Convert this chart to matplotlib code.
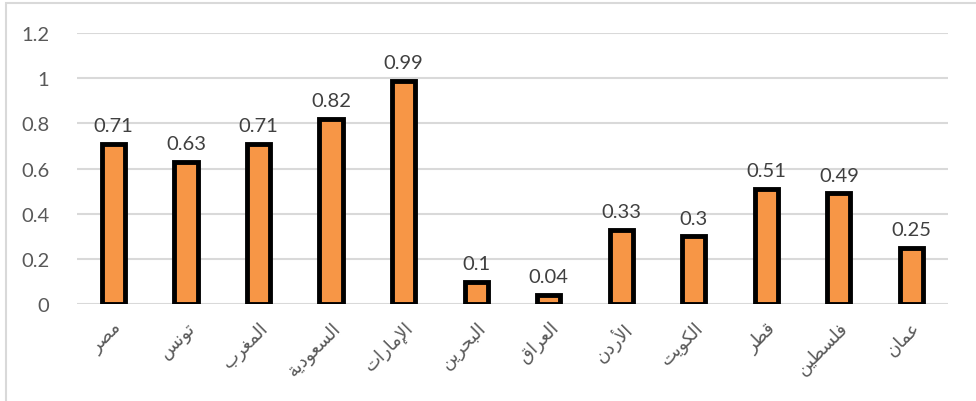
import matplotlib
matplotlib.use("Agg")
import matplotlib.pyplot as plt
from matplotlib.patches import Rectangle

countries = ["مصر", "تونس", "المغرب", "السعودية", "الإمارات", "البحرين",
             "العراق", "الأردن", "الكويت", "قطر", "فلسطين", "عمان"]
values = [0.71, 0.63, 0.71, 0.82, 0.99, 0.1, 0.04, 0.33, 0.3, 0.51, 0.49, 0.25]
yticks = [0, 0.2, 0.4, 0.6, 0.8, 1, 1.2]
ytick_labels = ["0", "0.2", "0.4", "0.6", "0.8", "1", "1.2"]

# presentation forms: isolated, final, initial, medial
FORMS = {
    "ا": (0xFE8D, 0xFE8E), "أ": (0xFE83, 0xFE84), "إ": (0xFE87, 0xFE88),
    "آ": (0xFE81, 0xFE82), "ة": (0xFE93, 0xFE94), "د": (0xFEA9, 0xFEAA),
    "ذ": (0xFEAB, 0xFEAC), "ر": (0xFEAD, 0xFEAE), "ز": (0xFEAF, 0xFEB0),
    "و": (0xFEED, 0xFEEE), "ؤ": (0xFE85, 0xFE86), "ى": (0xFEEF, 0xFEF0),
}
for ch, base in [("ب", 0xFE8F), ("ت", 0xFE95), ("ث", 0xFE99), ("ج", 0xFE9D),
                 ("ح", 0xFEA1), ("خ", 0xFEA5), ("س", 0xFEB1), ("ش", 0xFEB5),
                 ("ص", 0xFEB9), ("ض", 0xFEBD), ("ط", 0xFEC1), ("ظ", 0xFEC5),
                 ("ع", 0xFEC9), ("غ", 0xFECD), ("ف", 0xFED1), ("ق", 0xFED5),
                 ("ك", 0xFED9), ("ل", 0xFEDD), ("م", 0xFEE1), ("ن", 0xFEE5),
                 ("ه", 0xFEE9), ("ي", 0xFEF1), ("ئ", 0xFE89)]:
    FORMS[ch] = (base, base + 1, base + 2, base + 3)
LAM_ALEF = {"آ": (0xFEF5, 0xFEF6), "أ": (0xFEF7, 0xFEF8),
            "إ": (0xFEF9, 0xFEFA), "ا": (0xFEFB, 0xFEFC)}


def shape(word):
    # join letters into contextual forms, then reverse for left-to-right drawing
    out = []
    prev_joins = False
    i = 0
    while i < len(word):
        ch = word[i]
        nxt = word[i + 1] if i + 1 < len(word) else None
        if ch == "ل" and nxt in LAM_ALEF:
            iso, fin = LAM_ALEF[nxt]
            out.append(chr(fin if prev_joins else iso))
            prev_joins = False
            i += 2
            continue
        forms = FORMS[ch]
        dual = len(forms) == 4
        joins_next = dual and nxt is not None and nxt in FORMS
        if prev_joins and joins_next:
            cp = forms[3]
        elif prev_joins:
            cp = forms[1]
        elif joins_next:
            cp = forms[2]
        else:
            cp = forms[0]
        out.append(chr(cp))
        prev_joins = dual
        i += 1
    return "".join(reversed(out))


fig = plt.figure(figsize=(9.76, 4.02), dpi=100)
ax = fig.add_axes([0.079, 0.241, 0.892, 0.674])

x = range(len(countries))
ax.bar(x, values, width=0.32, color="#F79646", edgecolor="black",
       linewidth=3.5, zorder=3)

for xi, v in zip(x, values):
    ax.annotate(f"{v:g}", (xi, v), xytext=(0, 7), textcoords="offset points",
                ha="center", va="bottom", fontsize=14.5, color="#404040",
                family="Lato")

ax.set_xlim(-0.5, len(countries) - 0.5)
ax.set_ylim(0, 1.2)
ax.set_yticks(yticks)
ax.set_yticklabels(ytick_labels, fontsize=14.5, color="#595959", family="Lato")
ax.set_xticks(list(x))
ax.set_xticklabels([shape(c) for c in countries], rotation=45, ha="right",
                   rotation_mode="anchor", fontsize=13, color="#595959",
                   family="DejaVu Sans")
ax.tick_params(axis="both", length=0)
ax.tick_params(axis="y", pad=20)
ax.tick_params(axis="x", pad=10)
ax.grid(axis="y", color="#D9D9D9", linewidth=1.5, zorder=0)
for s in ax.spines.values():
    s.set_visible(False)

# light frame round the chart area
fig.patches.append(Rectangle((6 / 976, -0.1), 1.0, 1.1 - 4 / 402,
                             transform=fig.transFigure, fill=False,
                             edgecolor="#D9D9D9", linewidth=1.5))

fig.savefig("out.png", dpi=100)
